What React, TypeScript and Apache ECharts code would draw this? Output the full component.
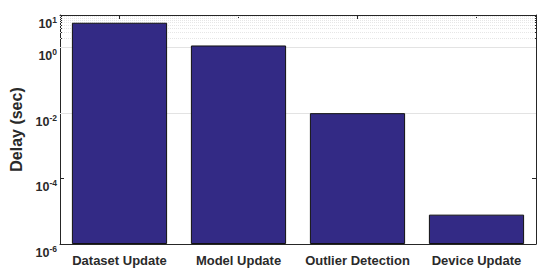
import React, { useEffect, useRef } from 'react';
import * as echarts from 'echarts';

const categories = ['Dataset Update', 'Model Update', 'Outlier Detection', 'Device Update'];
const delays = [5.8, 1.17, 0.01, 7.9e-6];
const majorTicks = [1e-6, 1e-4, 1e-2, 1, 10];
const majorGrid = [1e-4, 1e-2, 1];
const minorGrid = [2, 3, 4, 5, 6, 7, 8, 9];
const yMin = 1e-6;
const yMax = 10;

const axisColor = '#262626';
const sans = '"Liberation Sans", Arial, Helvetica, sans-serif';

export default function App() {
  const ref = useRef<HTMLDivElement>(null);
  useEffect(() => {
    if (!ref.current) return;
    const chart = echarts.init(ref.current, null, { renderer: 'svg' });
    const logAxisBase = {
      type: 'log' as const,
      logBase: 10,
      min: yMin,
      max: yMax,
      startValue: yMin,
      splitLine: { show: false },
    };
    chart.setOption({
      animation: false,
      backgroundColor: '#ffffff',
      grid: { left: 60, right: 6, top: 15, bottom: 27 },
      xAxis: [
        {
          type: 'category',
          data: categories,
          position: 'bottom',
          axisLine: { lineStyle: { color: axisColor, width: 1 } },
          axisTick: { show: false },
          axisLabel: {
            interval: 0,
            margin: 10,
            fontFamily: sans,
            fontWeight: 'bold',
            fontSize: 13,
            color: '#2a2a2a',
          },
        },
        {
          type: 'category',
          data: categories,
          position: 'top',
          axisLine: { lineStyle: { color: axisColor, width: 1 } },
          axisTick: { show: true, inside: true, alignWithLabel: true, length: 4, lineStyle: { color: axisColor } },
          axisLabel: { show: false },
        },
      ],
      yAxis: [
        {
          ...logAxisBase,
          position: 'left',
          name: 'Delay (sec)',
          nameLocation: 'middle',
          nameGap: 27,
          nameTextStyle: {
            fontFamily: sans,
            fontWeight: 'bold',
            fontSize: 16,
            color: '#2a2a2a',
          },
          axisLine: { show: true, lineStyle: { color: axisColor, width: 1 } },
          axisTick: { show: true, inside: true, length: 4, customValues: majorTicks, lineStyle: { color: axisColor } },
          axisLabel: {
            margin: 3,
            verticalAlign: 'top',
            customValues: majorTicks,
            formatter: (v: number) => {
              const e = Math.round(Math.log10(v));
              return `{b|10}{s|${e}}`;
            },
            rich: {
              b: { fontFamily: sans, fontWeight: 'bold', fontSize: 12.5, color: '#2a2a2a' },
              s: { fontFamily: sans, fontWeight: 'bold', fontSize: 8.5, color: '#2a2a2a', padding: [0, 0, 8, 0] },
            },
          },
        },
        {
          ...logAxisBase,
          position: 'right',
          axisLine: { show: true, lineStyle: { color: axisColor, width: 1 } },
          axisTick: { show: true, inside: true, length: 4, customValues: majorTicks, lineStyle: { color: axisColor } },
          axisLabel: { show: false },
        },
        {
          ...logAxisBase,
          position: 'left',
          axisLine: { show: false },
          axisTick: { show: true, inside: true, length: 2, customValues: minorGrid, lineStyle: { color: axisColor } },
          axisLabel: { show: false },
        },
        {
          ...logAxisBase,
          position: 'right',
          axisLine: { show: false },
          axisTick: { show: true, inside: true, length: 2, customValues: minorGrid, lineStyle: { color: axisColor } },
          axisLabel: { show: false },
        },
      ],
      series: [
        {
          type: 'line',
          xAxisIndex: 0,
          yAxisIndex: 0,
          data: [],
          z: 1,
          silent: true,
          markLine: {
            silent: true,
            z: 1,
            symbol: 'none',
            label: { show: false },
            data: [
              ...majorGrid.map((v) => ({ yAxis: v, lineStyle: { color: '#e3e3e3', width: 1, type: 'solid' } })),
              ...minorGrid.map((v) => ({ yAxis: v, lineStyle: { color: '#e6e6e6', width: 1, type: 'dotted' } })),
            ],
          },
        },
        {
          type: 'bar',
          xAxisIndex: 0,
          yAxisIndex: 0,
          data: delays,
          barWidth: '80%',
          z: 3,
          itemStyle: { color: '#332a85', borderColor: '#111111', borderWidth: 1 },
        },
      ],
    });
    return () => chart.dispose();
  }, []);
  return <div ref={ref} style={{ position: 'fixed', left: 0, top: 0, width: 542, height: 271 }} />;
}
